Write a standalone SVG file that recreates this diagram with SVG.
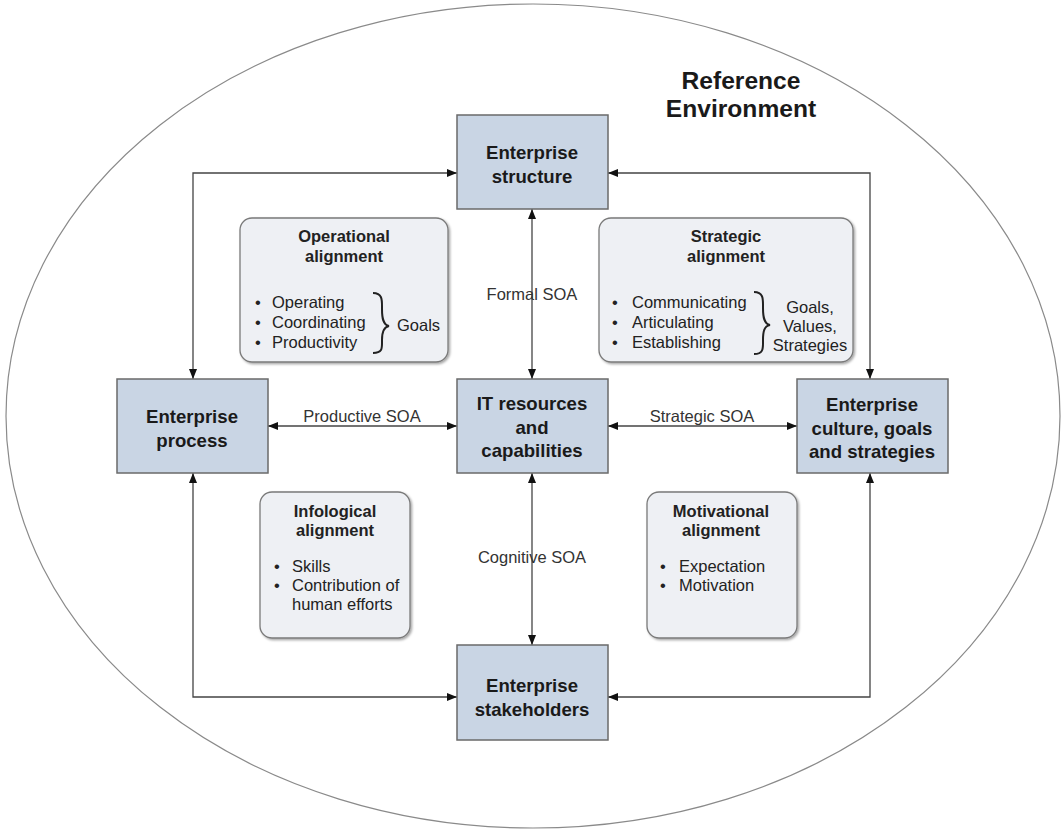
<svg xmlns="http://www.w3.org/2000/svg" width="1064" height="832" viewBox="0 0 1064 832">
  <defs>
    <marker id="arr" viewBox="0 0 10 8" refX="10" refY="4" markerWidth="10" markerHeight="8" markerUnits="userSpaceOnUse" orient="auto-start-reverse">
      <path d="M0,0 L10,4 L0,8 Z" fill="#111"/>
    </marker>
    <filter id="sh" x="-10%" y="-10%" width="130%" height="130%">
      <feDropShadow dx="1.5" dy="1.5" stdDeviation="1" flood-color="#000" flood-opacity="0.35"/>
    </filter>
  </defs>
  <style>
    .node rect { fill: #c9d5e4; stroke: #6a6a6a; stroke-width: 1.5; }
    .node text { font-family: "Liberation Sans", Arial, sans-serif; font-weight: bold; font-size: 18.6px; fill: #1a1a1a; text-anchor: middle; }
    .panel rect { fill: #eef0f4; stroke: #7a7a7a; stroke-width: 1.3; }
    .panel text { font-family: "Liberation Sans", Arial, sans-serif; font-size: 16.5px; fill: #222; }
    .panel .t { font-weight: bold; text-anchor: middle; }
    .panel .c { text-anchor: middle; }
    .panel .b { text-anchor: middle; }
    .brace { fill: none; stroke: #222; stroke-width: 2; }
    .conn path, .conn line { fill: none; stroke: #444; stroke-width: 1.3; }
    .lbl { font-family: "Liberation Sans", Arial, sans-serif; font-size: 16.5px; fill: #333; text-anchor: middle; }
  </style>

  <rect width="1064" height="832" fill="#ffffff"/>

  <!-- surrounding environment -->
  <ellipse cx="533" cy="416" rx="527" ry="412" fill="none" stroke="#8a8a8a" stroke-width="1.2"/>
  <g id="env-title" font-family="Liberation Sans, Arial, sans-serif" font-weight="bold" font-size="24.6" fill="#1a1a1a" text-anchor="middle">
    <text x="741" y="89">Reference</text>
    <text x="741" y="117">Environment</text>
  </g>

  <!-- connectors -->
  <g id="connectors" class="conn">
    <path d="M193,379 V173 H457" marker-start="url(#arr)" marker-end="url(#arr)"/>
    <path d="M870,379 V173 H608" marker-start="url(#arr)" marker-end="url(#arr)"/>
    <path d="M193,473 V697 H457" marker-start="url(#arr)" marker-end="url(#arr)"/>
    <path d="M870,473 V697 H608" marker-start="url(#arr)" marker-end="url(#arr)"/>
    <line x1="532" y1="209" x2="532" y2="379" marker-start="url(#arr)" marker-end="url(#arr)"/>
    <line x1="532" y1="473" x2="532" y2="645" marker-start="url(#arr)" marker-end="url(#arr)"/>
    <line x1="268" y1="426" x2="457" y2="426" marker-start="url(#arr)" marker-end="url(#arr)"/>
    <line x1="608" y1="426" x2="797" y2="426" marker-start="url(#arr)" marker-end="url(#arr)"/>
    <text class="lbl" x="532" y="300">Formal SOA</text>
    <text class="lbl" x="532" y="563">Cognitive SOA</text>
    <text class="lbl" x="362" y="422">Productive SOA</text>
    <text class="lbl" x="702" y="422">Strategic SOA</text>
  </g>

  <!-- alignment panels -->
  <g id="operational" class="panel">
    <rect x="240" y="218" width="208" height="144" rx="12" filter="url(#sh)"/>
    <text class="t" x="344" y="242">Operational</text>
    <text class="t" x="344" y="262">alignment</text>
    <text class="b" x="258" y="308">•</text><text x="272" y="308">Operating</text>
    <text class="b" x="258" y="328">•</text><text x="272" y="328">Coordinating</text>
    <text class="b" x="258" y="348">•</text><text x="272" y="348">Productivity</text>
    <path class="brace" d="M373,293 C383,293 382,301 382,309 C382,318 383,325 389,326 C383,327 382,333 382,340 C382,348 383,353 373,353"/>
    <text x="397" y="331">Goals</text>
  </g>

  <g id="strategic" class="panel">
    <rect x="599" y="218" width="254" height="144" rx="12" filter="url(#sh)"/>
    <text class="t" x="726" y="242">Strategic</text>
    <text class="t" x="726" y="262">alignment</text>
    <text class="b" x="615" y="308">•</text><text x="632" y="308">Communicating</text>
    <text class="b" x="615" y="328">•</text><text x="632" y="328">Articulating</text>
    <text class="b" x="615" y="348">•</text><text x="632" y="348">Establishing</text>
    <path class="brace" d="M754,292 C764,292 763,300 763,308 C763,317 764,324 770,325 C764,326 763,332 763,340 C763,348 764,354 754,354"/>
    <text class="c" x="810" y="313">Goals,</text>
    <text class="c" x="810" y="332">Values,</text>
    <text class="c" x="810" y="351">Strategies</text>
  </g>

  <g id="infological" class="panel">
    <rect x="260" y="492" width="150" height="146" rx="12" filter="url(#sh)"/>
    <text class="t" x="335" y="517">Infological</text>
    <text class="t" x="335" y="536">alignment</text>
    <text class="b" x="277" y="572">•</text><text x="292" y="572">Skills</text>
    <text class="b" x="277" y="591">•</text><text x="292" y="591">Contribution of</text>
    <text x="292" y="610">human efforts</text>
  </g>

  <g id="motivational" class="panel">
    <rect x="647" y="492" width="150" height="146" rx="12" filter="url(#sh)"/>
    <text class="t" x="721" y="517">Motivational</text>
    <text class="t" x="721" y="536">alignment</text>
    <text class="b" x="663" y="572">•</text><text x="679" y="572">Expectation</text>
    <text class="b" x="663" y="591">•</text><text x="679" y="591">Motivation</text>
  </g>

  <!-- main nodes -->
  <g id="structure" class="node">
    <rect x="457" y="115" width="151" height="94"/>
    <text x="532" y="159">Enterprise</text>
    <text x="532" y="183">structure</text>
  </g>
  <g id="process" class="node">
    <rect x="117" y="379" width="151" height="94"/>
    <text x="192" y="423">Enterprise</text>
    <text x="192" y="447">process</text>
  </g>
  <g id="it-resources" class="node">
    <rect x="457" y="379" width="151" height="94"/>
    <text x="532" y="410">IT resources</text>
    <text x="532" y="433.5">and</text>
    <text x="532" y="457">capabilities</text>
  </g>
  <g id="culture" class="node">
    <rect x="797" y="379" width="151" height="94"/>
    <text x="872" y="411">Enterprise</text>
    <text x="872" y="434.5">culture, goals</text>
    <text x="872" y="458">and strategies</text>
  </g>
  <g id="stakeholders" class="node">
    <rect x="457" y="645" width="151" height="95"/>
    <text x="532" y="692">Enterprise</text>
    <text x="532" y="716">stakeholders</text>
  </g>
</svg>
